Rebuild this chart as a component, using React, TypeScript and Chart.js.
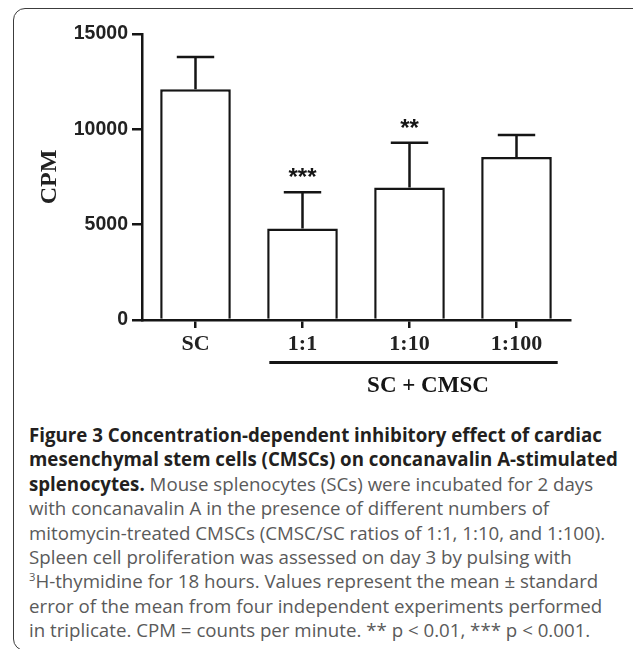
import React, { useEffect, useRef } from "react";
import { Chart, registerables } from "chart.js";

Chart.register(...registerables);

// ---- data ----
const categories = ["SC", "1:1", "1:10", "1:100"];
const meanCPM = [12100, 4800, 6950, 8550];
const semCPM = [1700, 1900, 2350, 1150];
const significance = ["", "***", "**", ""];
const yTicks = [0, 5000, 10000, 15000];
const groupLabel = "SC + CMSC";
const yTitle = "CPM";

const INK = "#151515";
const SERIF = '"Liberation Serif", "Times New Roman", serif';
const SANS = '"Liberation Sans", Arial, sans-serif';

const annotPlugin = {
  id: "annot",
  afterDatasetsDraw(chart: any) {
    const ctx = chart.ctx;
    const meta = chart.getDatasetMeta(0);
    const ys = chart.scales.y;
    const xs = chart.scales.x;
    ctx.save();
    ctx.strokeStyle = INK;
    ctx.fillStyle = INK;
    ctx.lineWidth = 2.5;
    meta.data.forEach((bar: any, i: number) => {
      const cx = bar.x;
      const top = ys.getPixelForValue(meanCPM[i]);
      const et = ys.getPixelForValue(meanCPM[i] + semCPM[i]);
      const capHalf = bar.width * 0.265;
      ctx.beginPath();
      ctx.moveTo(cx, top);
      ctx.lineTo(cx, et);
      ctx.moveTo(cx - capHalf, et);
      ctx.lineTo(cx + capHalf, et);
      ctx.stroke();
      if (significance[i]) {
        ctx.font = "bold 24px " + SANS;
        ctx.textAlign = "center";
        ctx.textBaseline = "alphabetic";
        ctx.fillText(significance[i], cx, et - 7);
      }
    });
    // group bracket under x-axis
    const w = xs.getPixelForValue(1) - xs.getPixelForValue(0);
    const x1 = xs.getPixelForValue(1) - 0.31 * w;
    const x2 = xs.getPixelForValue(3) + 0.385 * w;
    const base = chart.chartArea.bottom;
    ctx.lineWidth = 3;
    ctx.beginPath();
    ctx.moveTo(x1, base + 42.5);
    ctx.lineTo(x2, base + 42.5);
    ctx.stroke();
    ctx.font = "bold 23px " + SERIF;
    ctx.textAlign = "center";
    ctx.textBaseline = "alphabetic";
    ctx.fillText(groupLabel, (x1 + x2) / 2 + 0.135 * w, base + 72);
    ctx.restore();
  },
};

function BarChart() {
  const ref = useRef<HTMLCanvasElement>(null);
  useEffect(() => {
    if (!ref.current) return;
    const chart = new Chart(ref.current, {
      type: "bar",
      data: {
        labels: categories,
        datasets: [
          {
            data: meanCPM,
            backgroundColor: "#ffffff",
            borderColor: INK,
            borderWidth: 2.5,
            borderSkipped: "bottom",
            barPercentage: 0.66,
            categoryPercentage: 1,
          },
        ],
      },
      options: {
        animation: false,
        responsive: false,
        devicePixelRatio: 1,
        layout: { padding: { left: 0, top: 34, right: 63, bottom: 0 } },
        plugins: { legend: { display: false }, tooltip: { enabled: false } },
        scales: {
          x: {
            type: "category",
            offset: true,
            grid: {
              display: true,
              drawOnChartArea: false,
              drawTicks: true,
              tickLength: 8,
              offset: false,
              color: INK,
              lineWidth: 2.5,
            },
            border: { display: true, color: INK, width: 2.5 },
            ticks: {
              color: "#222",
              padding: 3,
              font: { family: SERIF, weight: "bold", size: 22 },
            },
            afterFit: (s: any) => {
              s.height = 80;
            },
          },
          y: {
            min: 0,
            max: 15000,
            afterBuildTicks: (s: any) => {
              s.ticks = yTicks.map((v) => ({ value: v }));
            },
            grid: {
              display: true,
              drawOnChartArea: false,
              drawTicks: true,
              tickLength: 10,
              color: INK,
              lineWidth: 2.5,
            },
            border: { display: true, color: INK, width: 2.5 },
            ticks: {
              color: "#222",
              padding: 4,
              font: { family: SANS, weight: "bold", size: 19.5 },
              callback: (v: any) => String(v),
            },
            title: {
              display: true,
              text: yTitle,
              color: "#222",
              font: { family: SERIF, weight: "bold", size: 24 },
              padding: { top: 35, bottom: 0 },
            },
            afterFit: (s: any) => {
              s.width = 142;
            },
          },
        },
      },
      plugins: [annotPlugin],
    });
    return () => chart.destroy();
  }, []);
  return (
    <canvas
      ref={ref}
      width={633}
      height={400}
      style={{ position: "absolute", left: 0, top: 0, width: 633, height: 400 }}
    />
  );
}

const BOLD = "#231f20";
const REG = "#5a5a5a";

export default function App() {
  useEffect(() => {
    document.body.style.margin = "0";
  }, []);
  const lineStyle: React.CSSProperties = { whiteSpace: "nowrap", height: 24.4, lineHeight: "24.4px" };
  const b: React.CSSProperties = { fontWeight: 700, color: BOLD };
  return (
    <div style={{ position: "relative", width: 633, height: 649, overflow: "hidden", background: "#fff" }}>
      <div
        style={{
          position: "absolute",
          left: 13,
          top: 8,
          width: 640,
          height: 643,
          border: "1.5px solid #3c3c3c",
          borderRadius: 12,
          boxSizing: "border-box",
        }}
      />
      <BarChart />
      <div
        style={{
          position: "absolute",
          left: 29,
          top: 423,
          fontFamily: '"Open Sans", "Noto Sans", sans-serif',
          fontSize: 18.7,
          color: REG,
        }}
      >
        <div style={{ ...lineStyle, ...b }}>Figure 3 Concentration-dependent inhibitory effect of cardiac</div>
        <div style={{ ...lineStyle, ...b }}>mesenchymal stem cells (CMSCs) on concanavalin A-stimulated</div>
        <div style={lineStyle}>
          <span style={b}>splenocytes.</span> Mouse splenocytes (SCs) were incubated for 2 days
        </div>
        <div style={lineStyle}>with concanavalin A in the presence of different numbers of</div>
        <div style={lineStyle}>mitomycin-treated CMSCs (CMSC/SC ratios of 1:1, 1:10, and 1:100).</div>
        <div style={lineStyle}>Spleen cell proliferation was assessed on day 3 by pulsing with</div>
        <div style={lineStyle}>
          <sup style={{ fontSize: "0.6em", lineHeight: 0 }}>3</sup>H-thymidine for 18 hours. Values represent the mean ± standard
        </div>
        <div style={lineStyle}>error of the mean from four independent experiments performed</div>
        <div style={lineStyle}>in triplicate. CPM = counts per minute. ** p &lt; 0.01, *** p &lt; 0.001.</div>
      </div>
    </div>
  );
}
